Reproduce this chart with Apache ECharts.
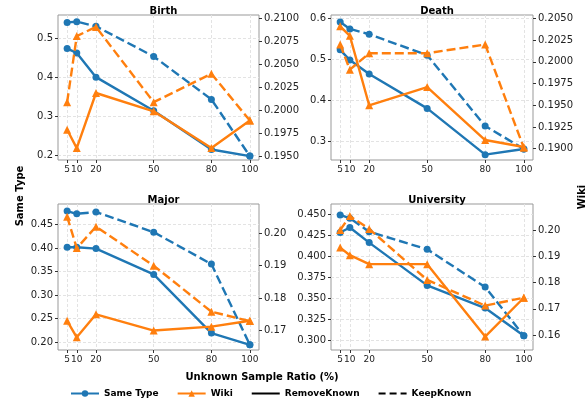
<!DOCTYPE html>
<html>
<head>
<meta charset="utf-8">
<script src="https://cdn.jsdelivr.net/npm/echarts@6/dist/echarts.min.js"></script>
<style>html,body{margin:0;background:#fff}#main{width:588px;height:403px}</style>
</head>
<body>
<div id="main"></div>
<script>
var ratios = [5, 10, 20, 50, 80, 100];
var panelNames = ['Birth', 'Death', 'Major', 'University'];

// Same Type (left axis) / Wiki (right axis), RemoveKnown = solid, KeepKnown = dashed
var birthTypeRemove = [0.473, 0.462, 0.400, 0.314, 0.215, 0.198];
var birthTypeKeep   = [0.540, 0.542, 0.530, 0.453, 0.343, 0.198];
var birthWikiRemove = [0.1979, 0.1959, 0.2019, 0.1999, 0.1959, 0.1989];
var birthWikiKeep   = [0.2009, 0.2081, 0.2091, 0.2009, 0.2040, 0.1989];

var deathTypeRemove = [0.523, 0.498, 0.464, 0.380, 0.267, 0.281];
var deathTypeKeep   = [0.591, 0.574, 0.561, 0.510, 0.337, 0.281];
var deathWikiRemove = [0.2041, 0.2030, 0.1950, 0.1971, 0.1910, 0.1902];
var deathWikiKeep   = [0.2020, 0.1991, 0.2010, 0.2010, 0.2020, 0.1901];

var majorTypeRemove = [0.402, 0.402, 0.399, 0.344, 0.219, 0.194];
var majorTypeKeep   = [0.479, 0.473, 0.477, 0.434, 0.366, 0.194];
var majorWikiRemove = [0.1730, 0.1679, 0.1750, 0.1700, 0.1712, 0.1730];
var majorWikiKeep   = [0.2051, 0.1954, 0.2020, 0.1900, 0.1758, 0.1729];

var uniTypeRemove = [0.428, 0.434, 0.416, 0.365, 0.338, 0.305];
var uniTypeKeep   = [0.449, 0.445, 0.429, 0.408, 0.363, 0.305];
var uniWikiRemove = [0.1933, 0.1904, 0.1870, 0.1870, 0.1594, 0.1742];
var uniWikiKeep   = [0.2000, 0.2053, 0.2004, 0.1810, 0.1712, 0.1742];

var birthTypeTicks = [0.2, 0.3, 0.4, 0.5];
var birthWikiTicks = [0.195, 0.1975, 0.2, 0.2025, 0.205, 0.2075, 0.21];
var deathTypeTicks = [0.3, 0.4, 0.5, 0.6];
var deathWikiTicks = [0.19, 0.1925, 0.195, 0.1975, 0.2, 0.2025, 0.205];
var majorTypeTicks = [0.2, 0.25, 0.3, 0.35, 0.4, 0.45];
var majorWikiTicks = [0.17, 0.18, 0.19, 0.2];
var uniTypeTicks = [0.3, 0.325, 0.35, 0.375, 0.4, 0.425, 0.45];
var uniWikiTicks = [0.16, 0.17, 0.18, 0.19, 0.2];

var panels = [
  {type: [birthTypeRemove, birthTypeKeep], wiki: [birthWikiRemove, birthWikiKeep],
   lt: birthTypeTicks, rt: birthWikiTicks, ld: 1, rd: 4,
   lmin: 0.188, lmax: 0.559, rmin: 0.1946, rmax: 0.2104,
   box: {left: 58, top: 15, width: 201, height: 145}},
  {type: [deathTypeRemove, deathTypeKeep], wiki: [deathWikiRemove, deathWikiKeep],
   lt: deathTypeTicks, rt: deathWikiTicks, ld: 1, rd: 4,
   lmin: 0.254, lmax: 0.608, rmin: 0.1887, rmax: 0.2054,
   box: {left: 331, top: 15, width: 202, height: 145}},
  {type: [majorTypeRemove, majorTypeKeep], wiki: [majorWikiRemove, majorWikiKeep],
   lt: majorTypeTicks, rt: majorWikiTicks, ld: 2, rd: 2,
   lmin: 0.183, lmax: 0.494, rmin: 0.164, rmax: 0.209,
   box: {left: 58, top: 204, width: 201, height: 146}},
  {type: [uniTypeRemove, uniTypeKeep], wiki: [uniWikiRemove, uniWikiKeep],
   lt: uniTypeTicks, rt: uniWikiTicks, ld: 3, rd: 2,
   lmin: 0.288, lmax: 0.462, rmin: 0.1543, rmax: 0.2099,
   box: {left: 331, top: 204, width: 202, height: 146}}
];

var blue = '#1f77b4', orange = '#ff7f0e';
var font = 'DejaVu Sans';
var dash = [9, 4];

function pts(vals) {
  return ratios.map(function (r, i) { return [r, vals[i]]; });
}
function fixed(d) {
  return function (v) { return v.toFixed(d); };
}

var grids = [], xAxes = [], yAxes = [], series = [], titles = [];
panels.forEach(function (p, i) {
  grids.push(Object.assign({show: true, borderColor: '#999', borderWidth: 1}, p.box));
  titles.push({
    text: panelNames[i], left: p.box.left + p.box.width / 2, top: p.box.top - 14,
    textAlign: 'center',
    textStyle: {fontFamily: font, fontSize: 10, fontWeight: 'bold', color: '#000'}
  });
  xAxes.push({
    type: 'value', gridIndex: i, min: 0.25, max: 104.75,
    axisLine: {show: false},
    axisTick: {show: true, length: 3, customValues: ratios, lineStyle: {color: '#333'}},
    axisLabel: {customValues: ratios, fontFamily: font, fontSize: 9, color: '#222', margin: 5},
    splitLine: {show: true, lineStyle: {color: '#e3e3e3', type: [3, 2]}}
  });
  yAxes.push({
    type: 'value', gridIndex: i, position: 'left', min: p.lmin, max: p.lmax,
    axisLine: {show: false},
    axisTick: {show: true, length: 3, customValues: p.lt, lineStyle: {color: '#333'}},
    axisLabel: {customValues: p.lt, fontFamily: font, fontSize: 10, color: '#222', margin: 5,
      formatter: fixed(p.ld)},
    splitLine: {show: true, lineStyle: {color: '#e3e3e3', type: [3, 2]}}
  });
  yAxes.push({
    type: 'value', gridIndex: i, position: 'right', min: p.rmin, max: p.rmax,
    axisLine: {show: false},
    axisTick: {show: true, length: 3, customValues: p.rt, lineStyle: {color: '#333'}},
    axisLabel: {customValues: p.rt, fontFamily: font, fontSize: 10, color: '#222', margin: 5,
      formatter: fixed(p.rd)},
    splitLine: {show: false}
  });
  ['solid', 'dashed'].forEach(function (ls, k) {
    series.push({
      name: 'Same Type', type: 'line', xAxisIndex: i, yAxisIndex: 2 * i,
      data: pts(p.type[k]), symbol: 'circle', symbolSize: 7,
      lineStyle: {color: blue, width: 2.4, type: ls === 'solid' ? 'solid' : dash},
      itemStyle: {color: blue}, z: 3
    });
    series.push({
      name: 'Wiki', type: 'line', xAxisIndex: i, yAxisIndex: 2 * i + 1,
      data: pts(p.wiki[k]), symbol: 'triangle', symbolSize: 8,
      lineStyle: {color: orange, width: 2.4, type: ls === 'solid' ? 'solid' : dash},
      itemStyle: {color: orange}, z: 4
    });
  });
});

// empty series only used for the legend entries
series.push({name: 'RemoveKnown', type: 'line', xAxisIndex: 0, yAxisIndex: 0, data: [],
  symbol: 'none', lineStyle: {color: '#000', width: 2.4}, itemStyle: {color: '#000'}});
series.push({name: 'KeepKnown', type: 'line', xAxisIndex: 0, yAxisIndex: 0, data: [],
  symbol: 'none', lineStyle: {color: '#000', width: 2.4, type: [7, 4]}, itemStyle: {color: '#000'}});

var chart = echarts.init(document.getElementById('main'), null, {renderer: 'canvas'});
chart.setOption({
  animation: false,
  backgroundColor: '#fff',
  title: titles,
  grid: grids,
  xAxis: xAxes,
  yAxis: yAxes,
  legend: {
    data: ['Same Type', 'Wiki',
      {name: 'RemoveKnown', itemStyle: {opacity: 0}},
      {name: 'KeepKnown', itemStyle: {opacity: 0}}],
    left: 65, top: 384, itemWidth: 28, itemHeight: 8, itemGap: 18,
    textStyle: {fontFamily: font, fontSize: 9, fontWeight: 'bold', color: '#000'}
  },
  graphic: [
    {type: 'text', x: 262, y: 377,
     style: {text: 'Unknown Sample Ratio (%)', font: 'bold 10px "DejaVu Sans"', fill: '#000',
       align: 'center', verticalAlign: 'middle'}},
    {type: 'text', x: 20, y: 196, rotation: Math.PI / 2,
     style: {text: 'Same Type', font: 'bold 10px "DejaVu Sans"', fill: '#000',
       align: 'center', verticalAlign: 'middle'}},
    {type: 'text', x: 582, y: 197, rotation: Math.PI / 2,
     style: {text: 'Wiki', font: 'bold 10px "DejaVu Sans"', fill: '#000',
       align: 'center', verticalAlign: 'middle'}}
  ],
  series: series
});
</script>
</body>
</html>
